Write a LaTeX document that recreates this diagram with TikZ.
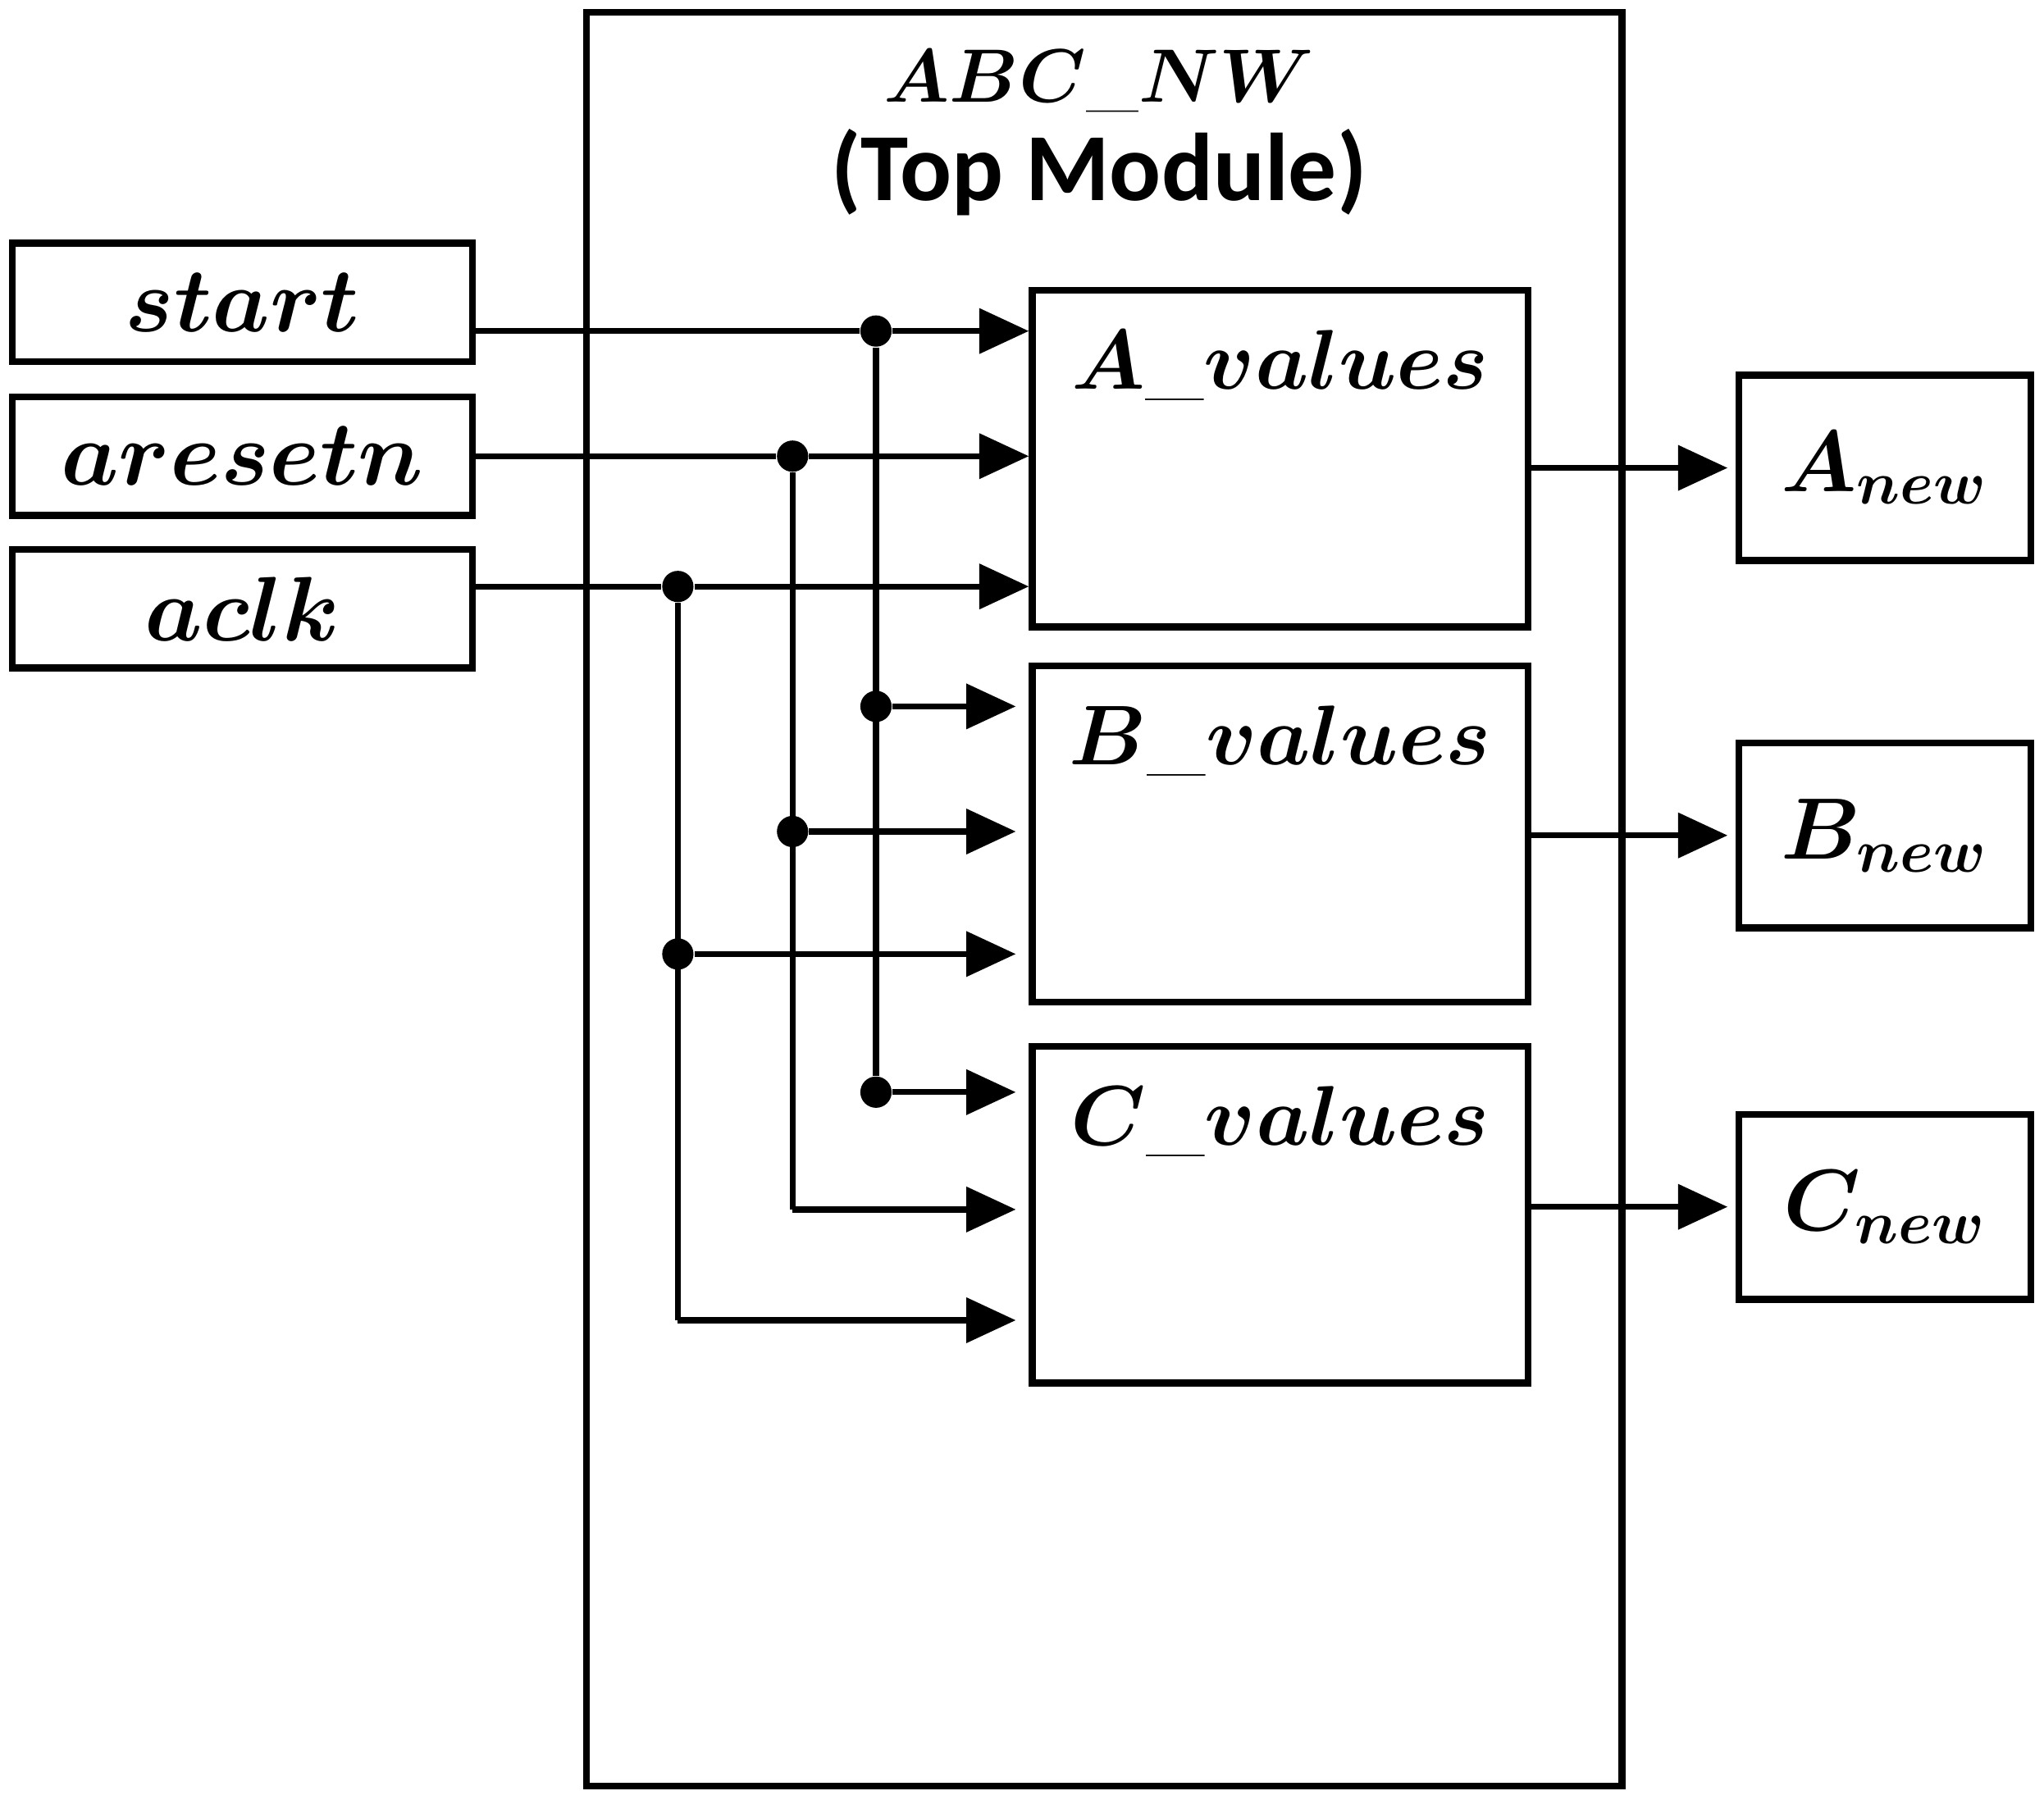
\RequirePackage{fix-cm}
\documentclass[tikz,border=0pt]{standalone}
\usepackage{fontspec}
\usepackage{bm}
\newfontfamily\calibri{Carlito}
\usetikzlibrary{arrows.meta,positioning}

\begin{document}
\begin{tikzpicture}[x=0.01cm, y=-0.01cm,
   font=\fontsize{20}{24}\selectfont,
   box/.style = {draw, line width=1.5pt, inner sep=0pt},
   inbox/.style = {box, minimum width=3.53cm, minimum height=0.91cm},
   modbox/.style = {box, minimum width=3.8cm, minimum height=2.58cm},
   outbox/.style = {box, minimum width=2.24cm, minimum height=1.42cm, font=\fontsize{19}{23}\selectfont},
   modlab/.style = {anchor=center, yshift=-0.6cm, font=\fontsize{18.5}{22}\selectfont},
   wire/.style = {line width=1.3pt},
   sig/.style = {wire, -{Triangle[length=0.38cm,width=0.34cm]}},
   dot/.style = {circle, fill, inner sep=0pt, minimum size=0.24cm}]
   \useasboundingbox (0,0) rectangle (1568,1381);
   % top module
   \node[box, minimum width=7.94cm, minimum height=13.6cm] (top) at (847,690) {};
   \node[font=\fontsize{16.5}{20}\selectfont] (title) at (843,62) {$\bm{ABC\_NW}$};
   \node[below of = title, node distance=0.7cm, font=\calibri\bfseries\fontsize{21}{25}\selectfont] (sub) {(Top Module)};
   % inputs
   \node[inbox] (start) at (186,232) {$\bm{start}$};
   \node[inbox] (aresetn) at (186,350) {$\bm{aresetn}$};
   \node[inbox] (aclk) at (186,467) {$\bm{aclk}$};
   % sub modules
   \node[modbox, label={[modlab]north:$\bm{A\_values}$}] (Aval) at (982,352) {};
   \node[modbox, label={[modlab]north:$\bm{B\_values}$}] (Bval) at (982,640) {};
   \node[modbox, label={[modlab]north:$\bm{C\_values}$}] (Cval) at (982,932) {};
   % outputs
   \node[outbox] (Anew) at (1446,359) {$\bm{A_{new}}$};
   \node[outbox] (Bnew) at (1446,641) {$\bm{B_{new}}$};
   \node[outbox] (Cnew) at (1446,926) {$\bm{C_{new}}$};
   % junctions
   \node[dot] (sA) at (672,254) {};
   \node[dot] (sB) at (672,542) {};
   \node[dot] (sC) at (672,838) {};
   \node[dot] (rA) at (608,350) {};
   \node[dot] (rB) at (608,638) {};
   \coordinate (rC) at (608,928);
   \node[dot] (cA) at (520,450) {};
   \node[dot] (cB) at (520,732) {};
   \coordinate (cC) at (520,1013);
   % start
   \draw[wire] (start.east |- sA) -- (sA);
   \draw[sig] (sA) -- (Aval.west |- sA);
   \draw[wire] (sA) -- (sC);
   \draw[sig, shorten >=0.1cm] (sB) -- (Bval.west |- sB);
   \draw[sig, shorten >=0.1cm] (sC) -- (Cval.west |- sC);
   % aresetn
   \draw[wire] (aresetn.east |- rA) -- (rA);
   \draw[sig] (rA) -- (Aval.west |- rA);
   \draw[wire] (rA) -- (rC);
   \draw[sig, shorten >=0.1cm] (rB) -- (Bval.west |- rB);
   \draw[sig, shorten >=0.1cm] (rC) -- (Cval.west |- rC);
   % aclk
   \draw[wire] (aclk.east |- cA) -- (cA);
   \draw[sig] (cA) -- (Aval.west |- cA);
   \draw[wire] (cA) -- (cC);
   \draw[sig, shorten >=0.1cm] (cB) -- (Bval.west |- cB);
   \draw[sig, shorten >=0.1cm] (cC) -- (Cval.west |- cC);
   % results
   \draw[sig, shorten >=0.06cm] (Aval.east |- Anew) -- (Anew);
   \draw[sig, shorten >=0.06cm] (Bval.east |- Bnew) -- (Bnew);
   \draw[sig, shorten >=0.06cm] (Cval.east |- Cnew) -- (Cnew);
\end{tikzpicture}
\end{document}
